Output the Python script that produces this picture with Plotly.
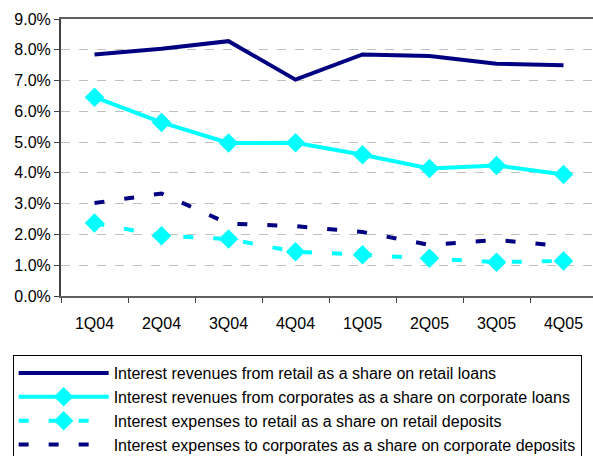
import plotly.graph_objects as go

quarters = ["1Q04", "2Q04", "3Q04", "4Q04", "1Q05", "2Q05", "3Q05", "4Q05"]

retail_rev = [7.85, 8.03, 8.28, 7.03, 7.85, 7.80, 7.55, 7.50]
corp_rev = [6.46, 5.64, 4.97, 4.98, 4.59, 4.14, 4.24, 3.95]
retail_exp = [2.37, 1.96, 1.85, 1.44, 1.34, 1.23, 1.10, 1.14]
corp_exp = [3.02, 3.33, 2.35, 2.27, 2.08, 1.66, 1.82, 1.62]

names = [
    "Interest revenues from retail as a share on retail loans",
    "Interest revenues from corporates as a share on corporate loans",
    "Interest expenses to retail as a share on retail deposits",
    "Interest expenses to corporates as a share on corporate deposits",
]

navy = "#000080"
cyan = "#00FFFF"
dash = "10px,20px"

fig = go.Figure()
fig.add_trace(go.Scatter(x=quarters, y=retail_rev, name=names[0], mode="lines",
                         line=dict(color=navy, width=4)))
fig.add_trace(go.Scatter(x=quarters, y=corp_rev, name=names[1], mode="lines+markers",
                         line=dict(color=cyan, width=4),
                         marker=dict(symbol="diamond", size=15, color=cyan)))
fig.add_trace(go.Scatter(x=quarters, y=retail_exp, name=names[2], mode="lines+markers",
                         line=dict(color=cyan, width=4, dash=dash),
                         marker=dict(symbol="diamond", size=15, color=cyan)))
fig.add_trace(go.Scatter(x=quarters, y=corp_exp, name=names[3], mode="lines",
                         line=dict(color=navy, width=4, dash=dash)))

# figure is a bit larger than the window: the legend box runs off the
# bottom/right edge like in the original
fig.update_layout(
    width=610, height=475,
    margin=dict(l=61, r=13, t=19, b=175),
    paper_bgcolor="white", plot_bgcolor="white",
    font=dict(family="Liberation Sans, Arial, sans-serif", size=16, color="black"),
    showlegend=True,
    legend=dict(x=-0.0902, y=-0.2135, xanchor="left", yanchor="top",
                bordercolor="black", borderwidth=1, itemwidth=90,
                font=dict(size=16), tracegroupgap=0),
)
fig.update_xaxes(
    type="category", range=[-0.5, 7.5], automargin=False,
    showline=True, linecolor="#606060", linewidth=2, mirror=True,
    ticks="outside", tickson="boundaries", ticklen=5, tickcolor="#404040",
    ticklabelstandoff=12, showgrid=False,
)
fig.update_yaxes(
    range=[0, 9], dtick=1, tickformat=".1f", ticksuffix="%", automargin=False,
    showline=True, linecolor="#404040", linewidth=2,
    ticks="outside", ticklen=5, tickcolor="#404040",
    showgrid=True, gridcolor="#C0C0C0", griddash="dash", gridwidth=1,
    zeroline=False,
)

fig.write_html("out.html", config={"displayModeBar": False},
               post_script="document.body.style.margin='0px';"
                           "document.body.style.overflow='hidden';")
